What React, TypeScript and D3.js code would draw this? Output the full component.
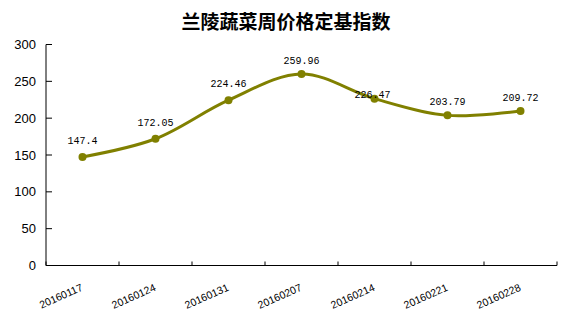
import React from "react";
import * as d3 from "d3";

const categories = ["20160117", "20160124", "20160131", "20160207", "20160214", "20160221", "20160228"];
const values = [147.4, 172.05, 224.46, 259.96, 226.47, 203.79, 209.72];
const valueLabels = ["147.4", "172.05", "224.46", "259.96", "226.47", "203.79", "209.72"];
const yTicks = [0, 50, 100, 150, 200, 250, 300];
const title = "兰陵蔬菜周价格定基指数";

const W = 562;
const H = 313;
const left = 46;
const right = 557;
const top = 44.5;
const bottom = 265.5;
const color = "#808000";

export default function App() {
  const x = d3.scaleBand<string>().domain(categories).range([left, right]);
  const y = d3.scaleLinear().domain([0, 300]).range([bottom, top]);
  const cx = (c: string) => (x(c) as number) + x.bandwidth() / 2;
  const line = d3
    .line<number>()
    .x((_, i) => cx(categories[i]))
    .y((d) => y(d))
    .curve(d3.curveCatmullRom.alpha(0.5));
  const labelDy = (i: number) => (i === 4 ? -1 : i < 3 ? -13 : -10);
  const labelDx = (i: number) => (i === 4 ? -2 : 0);
  const xTickPos = [...categories.map((c) => x(c) as number), right];

  return (
    <div style={{ position: "absolute", left: 0, top: 0 }}>
      <svg width={W} height={H} style={{ display: "block", background: "#fff" }}>
        <text
          x={286}
          y={29}
          textAnchor="middle"
          fontFamily="'Noto Sans CJK SC', sans-serif"
          fontWeight="bold"
          fontSize={19}
          fill="#000"
        >
          {title}
        </text>
        {/* Y axis */}
        <line x1={left} x2={left} y1={top} y2={bottom} stroke="#000" strokeWidth={1} />
        {yTicks.map((t) => (
          <g key={t}>
            <line x1={left} x2={left + 6} y1={y(t)} y2={y(t)} stroke="#000" />
            <text
              x={left - 10}
              y={y(t)}
              dy="0.35em"
              textAnchor="end"
              fontFamily="'Liberation Sans', Arial, sans-serif"
              fontSize={13}
              fill="#000"
            >
              {t}
            </text>
          </g>
        ))}
        {/* X axis */}
        <line x1={left} x2={right} y1={bottom} y2={bottom} stroke="#000" strokeWidth={1} />
        {xTickPos.map((p, i) => (
          <line key={i} x1={p} x2={p} y1={bottom} y2={bottom - 4} stroke="#000" />
        ))}
        {categories.map((c) => (
          <text
            key={c}
            transform={`translate(${cx(c) + 1},${290}) rotate(-24)`}
            textAnchor="end"
            fontFamily="'Liberation Sans', Arial, sans-serif"
            fontSize={10.5}
            fill="#000"
          >
            {c}
          </text>
        ))}
        <path d={line(values) || ""} fill="none" stroke={color} strokeWidth={3} />
        {values.map((v, i) => (
          <circle key={i} cx={cx(categories[i])} cy={y(v)} r={4} fill={color} />
        ))}
        {values.map((v, i) => (
          <text
            key={i}
            x={cx(categories[i]) + labelDx(i)}
            y={y(v) + labelDy(i)}
            textAnchor="middle"
            fontFamily="'Liberation Mono', monospace"
            fontSize={10}
            fill="#000"
          >
            {valueLabels[i]}
          </text>
        ))}
      </svg>
    </div>
  );
}
